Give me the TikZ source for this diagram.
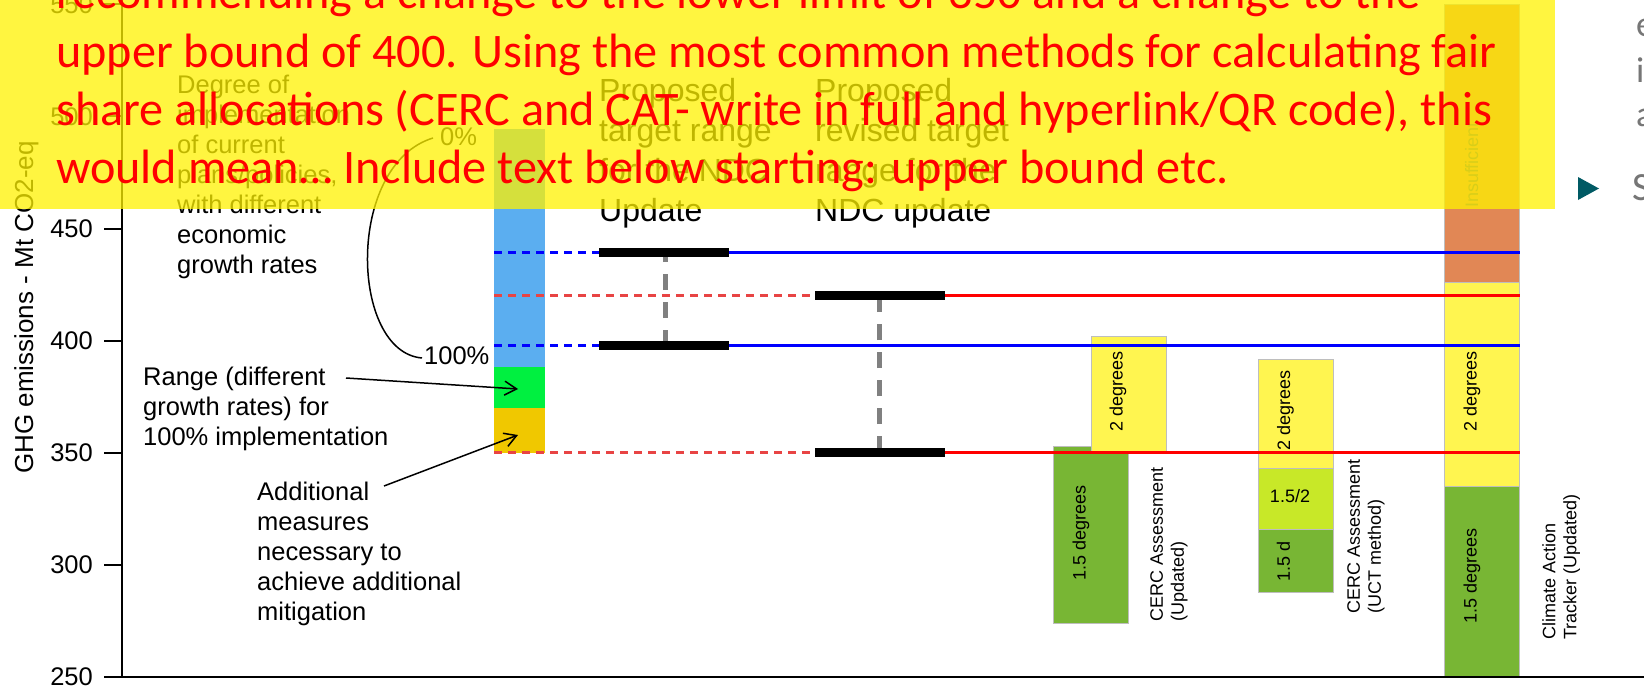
\documentclass[tikz,border=0pt]{standalone}
\usepackage{fontspec}
\setmainfont{Liberation Sans}
\newfontfamily\calib{Carlito}
\usetikzlibrary{arrows.meta}
\definecolor{cblue}{RGB}{91,174,240}
\definecolor{cgreen}{RGB}{0,240,64}
\definecolor{cgold}{RGB}{240,200,0}
\definecolor{dgreen}{RGB}{120,182,52}
\definecolor{byellow}{RGB}{255,245,80}
\definecolor{limeg}{RGB}{200,232,40}
\definecolor{corange}{RGB}{225,135,85}
\definecolor{lblue}{RGB}{0,0,255}
\definecolor{lred}{RGB}{255,0,0}
\definecolor{dred}{RGB}{232,68,68}
\definecolor{slideteal}{RGB}{0,90,100}
\definecolor{slidegray}{RGB}{118,118,118}
\definecolor{barline}{RGB}{190,190,190}
\tikzset{
 ann/.style={font=\fontsize{25.5}{30}\selectfont, anchor=base west, inner sep=0pt},
 prop/.style={font=\fontsize{32}{40}\selectfont, anchor=base west, inner sep=0pt},
 barlbl/.style={font=\fontsize{18}{21}\selectfont, inner sep=0pt},
 rlbl/.style={barlbl, rotate=90},
 srclbl/.style={font=\fontsize{18}{21}\selectfont, inner sep=0pt, rotate=90, anchor=north west, align=left},
 ticklbl/.style={font=\fontsize{25.5}{30}\selectfont, anchor=east, inner sep=0pt},
 redtxt/.style={font=\calib\fontsize{48.2}{58}\selectfont, text=lred, anchor=base west, inner sep=0pt},
 barbox/.style={draw=barline, line width=1pt},
 solidln/.style={line width=3.5pt},
 dashln/.style={line width=3.5pt, dash pattern=on 8pt off 6pt},
 blk/.style={line width=9pt, black},
 gdash/.style={line width=5pt, draw={rgb,255:red,128;green,128;blue,128}, dash pattern=on 16pt off 12pt},
 annarrow/.style={line width=1.5pt, -{Straight Barb[length=12pt,width=14pt,line width=1.5pt]}},
 slidetxt/.style={font=\calib\fontsize{36}{44}\selectfont, text=slidegray, anchor=base west, inner sep=0pt},
}
\begin{document}
\begin{tikzpicture}[x=1pt,y=-1pt]
\useasboundingbox (0,0) rectangle (1644,693);
\fill[white] (0,0) rectangle (1644,693);

% left stacked bar
\fill[cblue] (494,129) rectangle (545,366.7);
\fill[cgreen] (494,366.7) rectangle (545,408.3);
\fill[cgold] (494,408.3) rectangle (545,452.8);

% CERC updated
\filldraw[barbox, fill=dgreen] (1053.4,446.7) rectangle (1128,623.3);
\filldraw[barbox, fill=byellow] (1091.2,336) rectangle (1166.3,452);
% CERC UCT
\filldraw[barbox, fill=byellow] (1258.7,359.3) rectangle (1333.5,468.3);
\filldraw[barbox, fill=limeg] (1258.7,468.3) rectangle (1333.5,529.3);
\filldraw[barbox, fill=dgreen] (1258.7,529.3) rectangle (1333.5,592.3);
% CAT
\filldraw[barbox, fill=corange] (1444.8,5) rectangle (1519.5,282.7);
\filldraw[barbox, fill=byellow] (1444.8,282.7) rectangle (1519.5,486.7);
\filldraw[barbox, fill=dgreen] (1444.8,486.7) rectangle (1519.5,676.7);

% bar labels
\node[rlbl] (l1) at (1081,532.5) {1.5 degrees};
\node[rlbl] (l2) at (1118,391.7) {2 degrees};
\node[rlbl] (l3) at (1285.4,410) {2 degrees};
\node[barlbl] (l4) at (1290,496) {1.5/2};
\node[rlbl] (l5) at (1283.5,561) {1.5 d};
\node[rlbl] (l6) at (1472,391.7) {2 degrees};
\node[rlbl] (l7) at (1472,576) {1.5 degrees};
\node[rlbl, text={rgb,255:red,100;green,100;blue,100}] (l8) at (1471.7,165) {Insufficient};

\node[srclbl] (s1) at (1150,622) {CERC Assessment\\(Updated)};
\node[srclbl] (s2) at (1347,613.3) {CERC Assessment\\(UCT method)};
\node[srclbl] (s3) at (1542,640) {Climate Action\\Tracker (Updated)};

% axes
\draw[line width=2pt] (122,0) -- (122,677);
\draw[line width=2pt] (104,677) -- (1644,677);
\foreach \v in {550,500,450,400,350,300,250} {
  \pgfmathsetmacro\yy{452.8-(\v-350)*2.242}
  \draw[line width=2pt] (104,\yy) -- (122,\yy);
  \node[ticklbl] (tick\v) at (93,\yy) {\v};
}
\node[font=\fontsize{26}{30}\selectfont, rotate=90, inner sep=0pt] (ylab) at (26.5,307.5) {GHG emissions - Mt CO2-eq};

% target lines
\draw[dashln, lblue] (494,252.3) -- (599,252.3);
\draw[dashln, lblue] (494,345.7) -- (599,345.7);
\draw[dashln, dred] (494,295.7) -- (815,295.7);
\draw[dashln, dred] (494,452.3) -- (815,452.3);
\draw[solidln, lblue] (729,252.3) -- (1519.5,252.3);
\draw[solidln, lblue] (729,345.7) -- (1519.5,345.7);
\draw[solidln, lred] (945,295.7) -- (1519.5,295.7);
\draw[solidln, lred] (945,452.3) -- (1519.5,452.3);
\draw[gdash] (665,346) -- (665,252);
\draw[gdash] (879,452) -- (879,296);
\draw[blk] (599,252.3) -- (729,252.3);
\draw[blk] (599,345.7) -- (729,345.7);
\draw[blk] (815,295.7) -- (945,295.7);
\draw[blk] (815,452.3) -- (945,452.3);

% proposed labels
\foreach \t [count=\i] in {Proposed,target range,for the NDC,Update}
  \node[prop] (pa\i) at (599,{101.7+40*(\i-1)}) {\t};
\foreach \t [count=\i] in {Proposed,revised target,range for the,NDC update}
  \node[prop] (pb\i) at (815,{101.7+40*(\i-1)}) {\t};

% annotations
\foreach \t [count=\i] in {Degree of,implementation,of current,{plans/policies,},with different,economic,growth rates}
  \node[ann] (dg\i) at (177,{93+30*(\i-1)}) {\t};
\foreach \t [count=\i] in {Range (different,growth rates) for,100\% implementation}
  \node[ann] (rg\i) at (143,{385+30*(\i-1)}) {\t};
\foreach \t [count=\i] in {Additional,measures,necessary to,achieve additional,mitigation}
  \node[ann] (ad\i) at (257,{500+30*(\i-1)}) {\t};
\node[ann] (p0) at (440,145) {0\%};
\node[ann] (p100) at (424,364) {100\%};

\coordinate (ra) at (346,378);
\coordinate (rb) at (518,389);
\draw[annarrow] (ra) -- (rb);
\coordinate (aa) at (384,486);
\coordinate (ab) at (518,435);
\draw[annarrow] (aa) -- (ab);
\coordinate (c0) at (433,138);
\coordinate (c1) at (422,358);
\draw[line width=1.5pt] (c0) .. controls (345,165) and (350,352) .. (c1);

% overlay
\fill[yellow, opacity=0.75] (0,0) rectangle (1555,209);
\node[redtxt] (r1) at (56,9) {recommending a change to the lower limit of 350 and a change to the};
\node[redtxt] (r2) at (56,67) {upper bound of 400. Using the most common methods for calculating fair};
\node[redtxt] (r3) at (56,125) {share allocations (CERC and CAT- write in full and hyperlink/QR code), this};
\node[redtxt] (r4) at (56,183) {would mean… Include text below starting: upper bound etc.};

% slide remnants at right
\fill[slideteal] (1578,177) -- (1599,188.5) -- (1578,200) -- cycle;
\node[slidetxt] (se) at (1636,36.7) {e};
\node[slidetxt] (si) at (1636,82) {i};
\node[slidetxt] (sa) at (1636,126) {a};
\node[slidetxt, font=\calib\fontsize{40}{44}\selectfont] (ss) at (1632,200) {S};
\end{tikzpicture}
\end{document}
